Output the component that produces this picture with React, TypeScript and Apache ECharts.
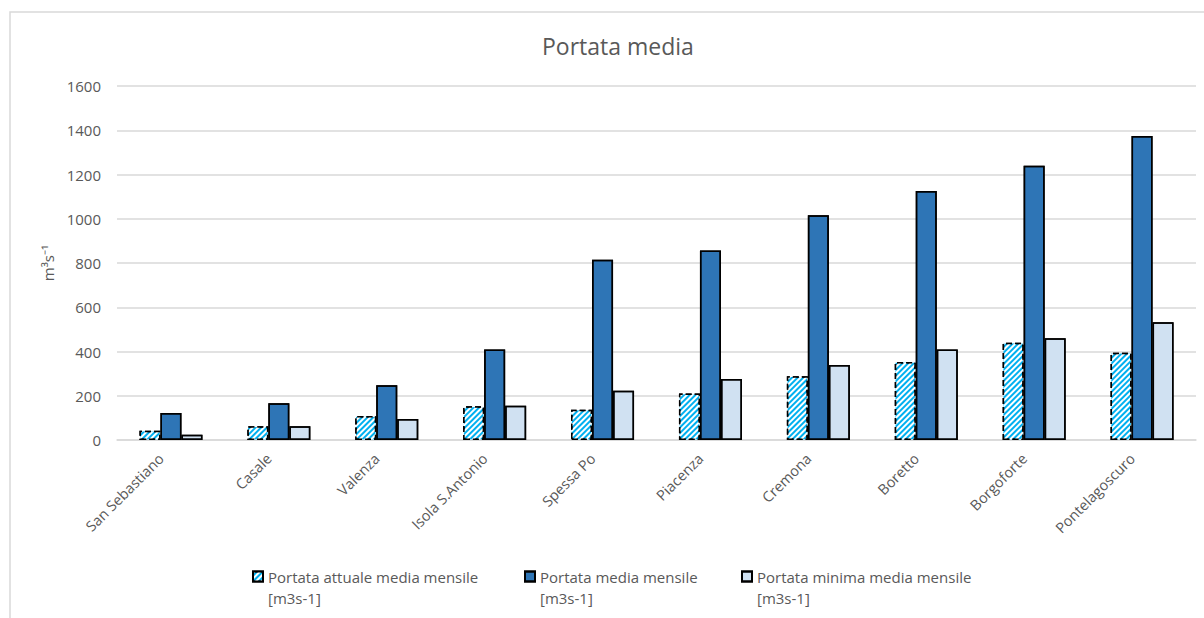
import React, { useEffect, useRef } from "react";
import * as echarts from "echarts";

const stations = [
  "San Sebastiano",
  "Casale",
  "Valenza",
  "Isola S.Antonio",
  "Spessa Po",
  "Piacenza",
  "Cremona",
  "Boretto",
  "Borgoforte",
  "Pontelagoscuro",
];
const portataAttuale = [42, 62, 108, 152, 137, 210, 288, 353, 439, 394];
const portataMedia = [122, 166, 248, 409, 815, 857, 1016, 1125, 1240, 1374];
const portataMinima = [24, 62, 95, 155, 223, 276, 339, 409, 460, 532];
const seriesNames = [
  "Portata attuale media mensile [m3s-1]",
  "Portata media mensile [m3s-1]",
  "Portata minima media mensile [m3s-1]",
];

const FONT = "Open Sans";
const GREY = "#595959";

const PortataMedia = () => {
  const chartRef = useRef<HTMLDivElement>(null);

  useEffect(() => {
    if (!chartRef.current) return;
    const chart = echarts.init(chartRef.current, undefined, { renderer: "svg" });
    const noDecal = { symbol: "none" };
    // square in the upper part of a taller box, so the icon lines up with the first text line
    const legendBase = {
      top: 566,
      padding: 0,
      itemWidth: 10,
      itemHeight: 31,
      itemGap: 0,
      icon: "path://M0,0H10V10H0Z M0,31L0.001,31",
      formatter: (name: string) => name.replace(" [", "\n["),
      textStyle: { fontFamily: FONT, fontSize: 15, color: GREY, lineHeight: 21 },
    };
    chart.setOption({
      animation: false,
      aria: { enabled: true, decal: { show: true } },
      textStyle: { fontFamily: FONT },
      title: {
        text: "Portata media",
        left: 537,
        top: 29,
        textStyle: { fontFamily: FONT, fontSize: 23, fontWeight: "normal", color: GREY },
      },
      graphic: [
        {
          type: "rect",
          shape: { x: 10, y: 12, width: 1210, height: 640 },
          style: { fill: "none", stroke: "#D9D9D9", lineWidth: 1.5 },
          silent: true,
        },
      ],
      legend: [
        { ...legendBase, left: 252, data: [seriesNames[0]] },
        { ...legendBase, left: 524, data: [seriesNames[1]] },
        { ...legendBase, left: 741, data: [seriesNames[2]] },
      ],
      grid: { left: 117, right: 8, top: 86, bottom: 178 },
      xAxis: {
        type: "category",
        data: stations,
        axisLine: { lineStyle: { color: "#D9D9D9", width: 1.5 } },
        axisTick: { show: false },
        axisLabel: {
          rotate: 45,
          interval: 0,
          fontFamily: FONT,
          fontSize: 14.5,
          color: GREY,
          margin: 6,
          padding: [0, 14, 0, 0],
        },
      },
      yAxis: {
        type: "value",
        min: 0,
        max: 1600,
        interval: 200,
        name: "m³s⁻¹",
        nameLocation: "middle",
        nameGap: 62,
        nameRotate: 90,
        nameTextStyle: { fontFamily: FONT, fontSize: 15, color: GREY },
        axisLine: { show: false },
        axisTick: { show: false },
        axisLabel: {
          fontFamily: FONT,
          fontSize: 15,
          color: GREY,
          margin: 16,
          formatter: (v: number) => String(v),
        },
        splitLine: { lineStyle: { color: "#D9D9D9", width: 1.5 } },
      },
      series: [
        {
          name: seriesNames[0],
          type: "bar",
          data: portataAttuale,
          barWidth: 21,
          barGap: "0%",
          itemStyle: {
            color: "#00B0F0",
            borderColor: "#000",
            borderWidth: 1.5,
            borderType: "dashed",
            decal: {
              symbol: "rect",
              symbolSize: 1,
              color: "#FFFFFF",
              dashArrayX: [1, 0],
              dashArrayY: [2, 2],
              rotation: -Math.PI / 4,
            },
          },
        },
        {
          name: seriesNames[1],
          type: "bar",
          data: portataMedia,
          barWidth: 21,
          barGap: "0%",
          itemStyle: { color: "#2E75B6", borderColor: "#000", borderWidth: 1.5, decal: noDecal },
        },
        {
          name: seriesNames[2],
          type: "bar",
          data: portataMinima,
          barWidth: 21,
          barGap: "0%",
          itemStyle: { color: "#D0E1F2", borderColor: "#000", borderWidth: 1.5, decal: noDecal },
        },
      ],
    });
    return () => {
      chart.dispose();
    };
  }, []);

  return (
    <div
      ref={chartRef}
      style={{ position: "fixed", left: 0, top: 0, width: "1204px", height: "618px", background: "#fff" }}
      aria-label="Portata media bar chart"
    />
  );
};

export default function App() {
  return <PortataMedia />;
}
